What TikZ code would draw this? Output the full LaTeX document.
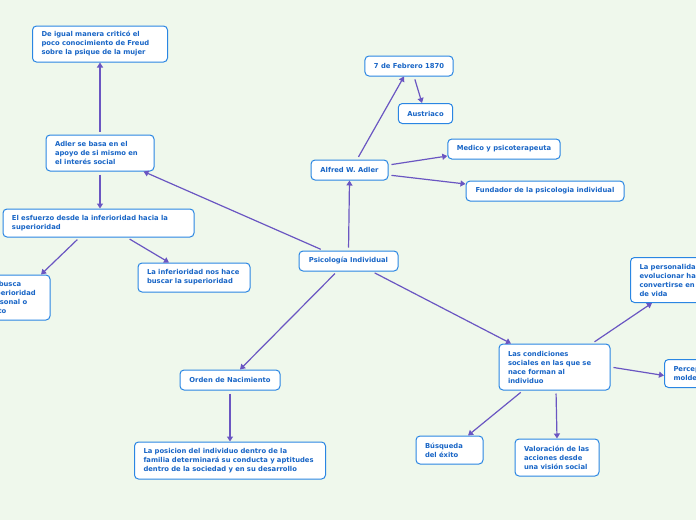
\documentclass[tikz,border=0pt]{standalone}
\usepackage{fontspec}
\setmainfont{DejaVu Sans}
\usetikzlibrary{arrows.meta,positioning}
\definecolor{bgmap}{HTML}{EFF8EC}
\definecolor{boxline}{HTML}{2A86E3}
\definecolor{boxtext}{HTML}{1865C6}
\definecolor{linkcol}{HTML}{6A56C2}

\begin{document}
\begin{tikzpicture}[
  x=1pt, y=-1pt,
  box/.style={draw=boxline, fill=white, rounded corners=4pt, line width=1pt,
              text=boxtext, font=\fontsize{6.8}{9}\selectfont\bfseries,
              inner xsep=9pt, inner ysep=5pt, minimum height=20pt},
  multi/.style={align=left, text width=#1},
  single/.style={align=center, minimum width=#1},
  arr/.style={draw=linkcol, line width=1.2pt, shorten <=3pt,
              -{Triangle[length=5pt,width=6pt]}}
]
\useasboundingbox (0,0) rectangle (696,520);
\fill[bgmap] (0,0) rectangle (696,520);

% centre
\node[box, single=99pt] (psico) at (348.5,261) {Psicología Individual};

% Alfred Adler
\node[box, single=77pt]  (adler)     at (349.5,170) {Alfred W. Adler};
\node[box, single=88pt]  (fecha)     at (409,66)    {7 de Febrero 1870};
\node[box, single=53pt]  (austriaco) at (425.5,113.5) {Austriaco};
\node[box, single=112pt] (medico)    at (504,149)   {Medico y psicoterapeuta};
\node[box, single=158pt] (fundador)  at (545,191)   {Fundador de la psicologia individual};

% lado izquierdo
\node[box, multi=90pt, minimum height=36pt] (basa) at (100,153)
  {Adler se basa en el\\apoyo de si mismo en\\el interés social};
\node[box, multi=117pt, minimum height=36pt, above=72pt of basa] (freud)
  {De igual manera criticó el\\poco conocimiento de Freud\\sobre la psique de la mujer};
\node[box, multi=173pt, minimum height=28pt] (esfuerzo) at (98.5,223)
  {El esfuerzo desde la inferioridad hacia la\\superioridad};
\node[box, multi=54pt, minimum height=45pt] (superior) at (14,297.5)
  {Se busca\\superioridad\\personal o\\éxito};
\node[box, multi=94pt, minimum height=29pt] (inferior) at (194,277.5)
  {La inferioridad nos hace\\buscar la superioridad};

% abajo
\node[box, single=100pt] (orden) at (230,380) {Orden de Nacimiento};
\node[box, multi=173pt, minimum height=37pt, below=51pt of orden] (posicion)
  {La posicion del individuo dentro de la\\familia determinará su conducta y aptitudes\\dentro de la sociedad y en su desarrollo};

% lado derecho
\node[box, multi=93pt, minimum height=46pt] (condiciones) at (554.5,367)
  {Las condiciones\\sociales en las que se\\nace forman al\\individuo};
\node[box, multi=112pt, minimum height=45pt, anchor=north west] (personalidad) at (630,257)
  {La personalidad puede\\evolucionar hasta\\convertirse en un estilo\\de vida};
\node[box, multi=110pt, minimum height=28pt, anchor=north west] (percepcion) at (664,359)
  {Percepción del mundo\\moldeada por la familia};
\node[box, multi=49pt, minimum height=28pt] (busqueda) at (449.5,450)
  {Búsqueda\\del éxito};
\node[box, multi=66pt, minimum height=37pt] (valoracion) at (557,457.5)
  {Valoración de las\\acciones desde\\una visión social};

% conexiones
\draw[arr] (psico.north) -- (adler.south);
\draw[arr] ([xshift=7.5pt]adler.north) -- ([xshift=-5pt]fecha.south);
\draw[arr] ([xshift=5pt]fecha.south) -- ([xshift=-3.5pt]austriaco.north);
\draw[arr] ([yshift=5pt]adler.east) -- ([yshift=-7pt]medico.west);
\draw[arr] ([yshift=-5pt]adler.east) -- ([yshift=7pt]fundador.west);

\draw[arr] ([xshift=-25pt]psico.north) -- ([xshift=-11pt]basa.south east);
\draw[arr] (basa.north) -- (freud.south);
\draw[arr] (basa.south) -- (basa.south |- esfuerzo.north);
\draw[arr] ([xshift=-19pt]esfuerzo.south) -- ([xshift=27pt]superior.north);
\draw[arr] ([xshift=28.5pt]esfuerzo.south) -- ([xshift=-25pt]inferior.north);

\draw[arr] ([xshift=-11.5pt]psico.south) -- ([xshift=10pt]orden.north);
\draw[arr] (orden.south) -- (orden.south |- posicion.north);

\draw[arr] ([xshift=23.5pt]psico.south) -- ([xshift=-43.5pt]condiciones.north);
\draw[arr] ([xshift=37.5pt]condiciones.north) -- ([xshift=22pt]personalidad.south west);
\draw[arr] (condiciones.east) -- ([yshift=-2pt]percepcion.west);
\draw[arr] ([xshift=-31.5pt]condiciones.south) -- ([xshift=18.5pt]busqueda.north);
\draw[arr] ([xshift=1.5pt]condiciones.south) -- (valoracion.north);
\end{tikzpicture}
\end{document}
